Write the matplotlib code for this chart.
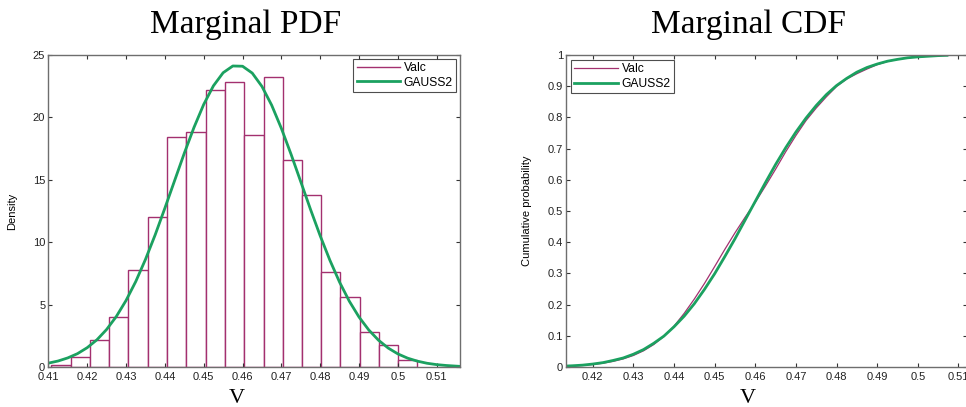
import numpy as np
import matplotlib
matplotlib.use('Agg')
import matplotlib.pyplot as plt

plt.rcParams['font.family'] = ['Liberation Sans', 'DejaVu Sans']

# 히스토그램 (Valc) - 구간 경계와 밀도
bin_edges = [0.4108, 0.4158, 0.4207, 0.4257, 0.4306, 0.4356, 0.4406, 0.4455,
             0.4505, 0.4554, 0.4604, 0.4654, 0.4703, 0.4753, 0.4802, 0.4852,
             0.4902, 0.4951, 0.5001, 0.5050]
density = [0.2, 0.8, 2.2, 4.0, 7.8, 12.0, 18.4, 18.8, 22.2, 22.8,
           18.6, 23.2, 16.6, 13.8, 7.6, 5.6, 2.8, 1.8, 0.6]

# GAUSS2 곡선
pdf_x = [0.4100, 0.4125, 0.4150, 0.4175, 0.4200, 0.4225, 0.4250, 0.4275, 0.4300,
         0.4325, 0.4350, 0.4375, 0.4400, 0.4425, 0.4450, 0.4475, 0.4500, 0.4525,
         0.4550, 0.4575, 0.4600, 0.4625, 0.4650, 0.4675, 0.4700, 0.4725, 0.4750,
         0.4775, 0.4800, 0.4825, 0.4850, 0.4875, 0.4900, 0.4925, 0.4950, 0.4975,
         0.5000, 0.5025, 0.5050, 0.5075, 0.5100, 0.5125, 0.5150, 0.5160]
pdf_y = [0.31, 0.48, 0.73, 1.07, 1.55, 2.18, 3.01, 4.05, 5.33,
         6.85, 8.62, 10.59, 12.73, 14.93, 17.13, 19.20, 21.04, 22.53,
         23.58, 24.12, 24.10, 23.55, 22.48, 20.98, 19.12, 17.04, 14.84,
         12.63, 10.51, 8.55, 6.79, 5.27, 4.00, 2.97, 2.15, 1.52,
         1.05, 0.71, 0.47, 0.30, 0.19, 0.12, 0.07, 0.05]

# 누적분포 (Valc 경험적 CDF, GAUSS2)
cdf_x = [0.4134, 0.4150, 0.4175, 0.4200, 0.4225, 0.4250, 0.4275, 0.4300, 0.4325,
         0.4350, 0.4375, 0.4400, 0.4425, 0.4450, 0.4475, 0.4500, 0.4525, 0.4550,
         0.4575, 0.4600, 0.4625, 0.4650, 0.4675, 0.4700, 0.4725, 0.4750, 0.4775,
         0.4800, 0.4825, 0.4850, 0.4875, 0.4900, 0.4925, 0.4950, 0.4975, 0.5000,
         0.5025, 0.5050, 0.5072]
valc_cdf = [0.002, 0.003, 0.005, 0.008, 0.012, 0.018, 0.026, 0.037, 0.052,
            0.072, 0.098, 0.131, 0.172, 0.218, 0.268, 0.322, 0.377, 0.430,
            0.480, 0.528, 0.580, 0.634, 0.690, 0.742, 0.790, 0.830, 0.866,
            0.899, 0.923, 0.940, 0.955, 0.969, 0.979, 0.986, 0.991, 0.994,
            0.996, 0.998, 1.000]
gauss_cdf = [0.003, 0.004, 0.006, 0.0095, 0.014, 0.021, 0.029, 0.041, 0.056,
             0.076, 0.099, 0.129, 0.163, 0.203, 0.249, 0.299, 0.354, 0.411,
             0.471, 0.531, 0.591, 0.649, 0.703, 0.753, 0.798, 0.838, 0.873,
             0.902, 0.925, 0.945, 0.960, 0.971, 0.980, 0.986, 0.991, 0.994,
             0.996, 0.998, 0.999]

valc_color = '#a3306f'
gauss_color = '#1ba160'
spine_color = '#6e6e6e'

W, H = 966, 407
fig = plt.figure(figsize=(W / 100, H / 100), dpi=100)

def style_axes(ax):
    for s in ax.spines.values():
        s.set_color(spine_color)
        s.set_linewidth(1.0)
    ax.tick_params(direction='in', length=3, width=0.8, color='#333333',
                   top=True, right=True, labelsize=8, pad=2, labelcolor='#222222')
    ax.tick_params(axis='x', pad=3.5)

def style_legend(leg):
    leg.get_frame().set_edgecolor('#222222')
    leg.get_frame().set_linewidth(0.8)

# 왼쪽: 주변 확률밀도
ax1 = fig.add_axes([48 / W, 1 - 367 / H, 412 / W, 312 / H])
ax1.hist(bin_edges[:-1], bins=bin_edges, weights=density, histtype='bar',
         facecolor='white', edgecolor=valc_color, linewidth=1.0)
ax1.plot(pdf_x, pdf_y, color=gauss_color, linewidth=2.0)
ax1.set_xlim(0.4099, 0.5160)
ax1.set_ylim(0, 25)
ax1.set_xticks(np.round(np.arange(0.41, 0.515, 0.01), 2))
ax1.set_xticklabels(['0.41', '0.42', '0.43', '0.44', '0.45', '0.46', '0.47',
                     '0.48', '0.49', '0.5', '0.51'])
ax1.set_yticks([0, 5, 10, 15, 20, 25])
ax1.set_ylabel('Density', fontsize=8)
ax1.yaxis.set_label_coords((17 - 48) / 412, 0.5)
style_axes(ax1)
h_valc = plt.Line2D([], [], color=valc_color, linewidth=1.0)
h_gauss = plt.Line2D([], [], color=gauss_color, linewidth=2.0)
leg1 = ax1.legend([h_valc, h_gauss], ['Valc', 'GAUSS2'], loc='upper right',
                  fontsize=8.7, frameon=True, fancybox=False, handlelength=3.6,
                  borderaxespad=0.35, borderpad=0.25, labelspacing=0.2, handletextpad=0.3)
style_legend(leg1)

# 오른쪽: 주변 누적분포
ax2 = fig.add_axes([566 / W, 1 - 367 / H, 400.5 / W, 312 / H])
ax2.plot(cdf_x, valc_cdf, color=valc_color, linewidth=0.9, label='Valc')
ax2.plot(cdf_x, gauss_cdf, color=gauss_color, linewidth=2.0, label='GAUSS2')
ax2.set_xlim(0.4134, 0.5120)
ax2.set_ylim(0, 1)
ax2.set_xticks(np.round(np.arange(0.42, 0.515, 0.01), 2))
ax2.set_xticklabels(['0.42', '0.43', '0.44', '0.45', '0.46', '0.47', '0.48',
                     '0.49', '0.5', '0.51'])
ax2.set_yticks(np.round(np.arange(0, 1.01, 0.1), 1))
ax2.set_yticklabels(['0', '0.1', '0.2', '0.3', '0.4', '0.5', '0.6', '0.7',
                     '0.8', '0.9', '1'])
ax2.set_ylabel('Cumulative probability', fontsize=8)
ax2.yaxis.set_label_coords((532 - 566) / 400.5, 0.5)
style_axes(ax2)
leg2 = ax2.legend(loc='upper left', fontsize=8.7, frameon=True, fancybox=False,
                  handlelength=3.6, borderaxespad=0.45, borderpad=0.25,
                  labelspacing=0.2, handletextpad=0.3)
style_legend(leg2)

# 제목과 x축 이름 (세리프)
serif = ['Liberation Serif', 'DejaVu Serif']
fig.text(245.5 / W, 1 - 33 / H, 'Marginal PDF', family=serif, fontsize=24,
         ha='center', va='baseline')
fig.text(748 / W, 1 - 33 / H, 'Marginal CDF', family=serif, fontsize=24,
         ha='center', va='baseline')
fig.text(237 / W, 1 - 403 / H, 'V', family=serif, fontsize=16, ha='center', va='baseline')
fig.text(748 / W, 1 - 403 / H, 'V', family=serif, fontsize=16, ha='center', va='baseline')

fig.savefig('out.png', dpi=100)
